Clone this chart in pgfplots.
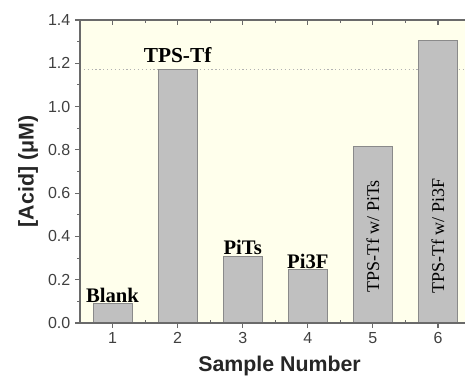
\documentclass[border=0pt]{standalone}
\usepackage{pgfplots}
\pgfplotsset{compat=1.18}
\usetikzlibrary{calc}
\usepackage{fontspec}
\setmainfont{Liberation Sans}
\newfontfamily\seriffont{Liberation Serif}
\definecolor{bg}{HTML}{FFFFEC}
\definecolor{barfill}{HTML}{C0C0C0}
\definecolor{baredge}{HTML}{8A8A8A}
\definecolor{spine}{HTML}{6A6A6A}
\definecolor{ticktext}{HTML}{404040}
\pgfplotsset{common/.style={scale only axis, width=292.9pt, height=227.25pt,
  xmin=0.5, xmax=6.5, ymin=0, ymax=1.4,
  axis line style={spine, line width=0.8pt},
  every tick/.style={spine, line width=0.8pt}}}
\begin{document}
\begin{tikzpicture}
\begin{axis}[common,
  axis background/.style={fill=bg},
  ybar, bar width=0.6,
  xtick={1,...,6}, xtick pos=bottom,
  ytick={0,0.2,...,1.4}, minor y tick num=1, ytick pos=left,
  tick align=outside, major tick length=3.75pt, minor tick length=2.2pt,
  /pgf/number format/assume math mode=true,
  yticklabel style={/pgf/number format/fixed, /pgf/number format/fixed zerofill, /pgf/number format/precision=1},
  tick label style={font=\fontsize{12}{14}\selectfont, text=ticktext},
  xlabel={Sample Number}, ylabel={[Acid] (μM)},
  label style={font=\bfseries\fontsize{16}{18}\selectfont, text=black!85},
  xlabel style={at={(axis description cs:0.511,0)}, anchor=center, yshift=-32pt},
  ylabel style={at={(axis description cs:-0.133,0.5)}, anchor=center},
]
\addplot[sharp plot, dotted, black!30, line width=0.9pt, forget plot] coordinates {(0.5,1.172) (6.5,1.172)};
\addplot[fill=barfill, draw=baredge, line width=0.75pt] coordinates {
(1,0.088) (2,1.172) (3,0.306) (4,0.245) (5,0.815) (6,1.303)};
\node[font=\seriffont\bfseries\fontsize{15.5}{17}\selectfont, anchor=south, inner sep=1.5pt] at (axis cs:1,0.085) {Blank};
\node[font=\seriffont\bfseries\fontsize{16}{17}\selectfont, anchor=south, inner sep=1.5pt] at (axis cs:2,1.19) {TPS-Tf};
\node[font=\seriffont\bfseries\fontsize{15.5}{17}\selectfont, anchor=south, inner sep=1.5pt] at (axis cs:3,0.303) {PiTs};
\node[font=\seriffont\bfseries\fontsize{15.5}{17}\selectfont, anchor=south, inner sep=1.5pt] at (axis cs:4,0.242) {Pi3F};
\node[font=\seriffont\fontsize{13.5}{15}\selectfont, rotate=90] at (axis cs:5,0.40) {TPS-Tf w/ PiTs};
\node[font=\seriffont\fontsize{13.5}{15}\selectfont, rotate=90] at (axis cs:6,0.40) {TPS-Tf w/ Pi3F};
\end{axis}
\begin{axis}[common, xtick={1.5,2.5,...,6.5}, xticklabels={}, ytick=\empty,
  xtick pos=both, tick align=inside, major tick length=2.5pt]
\end{axis}
\begin{axis}[common, xtick={1,...,6}, xticklabels={}, ytick=\empty,
  xtick pos=top, tick align=inside, major tick length=3.75pt]
\end{axis}
\pgfresetboundingbox
\useasboundingbox ($(current axis.south west)+(-60pt,-39.75pt)$) rectangle ++(348.75pt,282pt);
\end{tikzpicture}
\end{document}
